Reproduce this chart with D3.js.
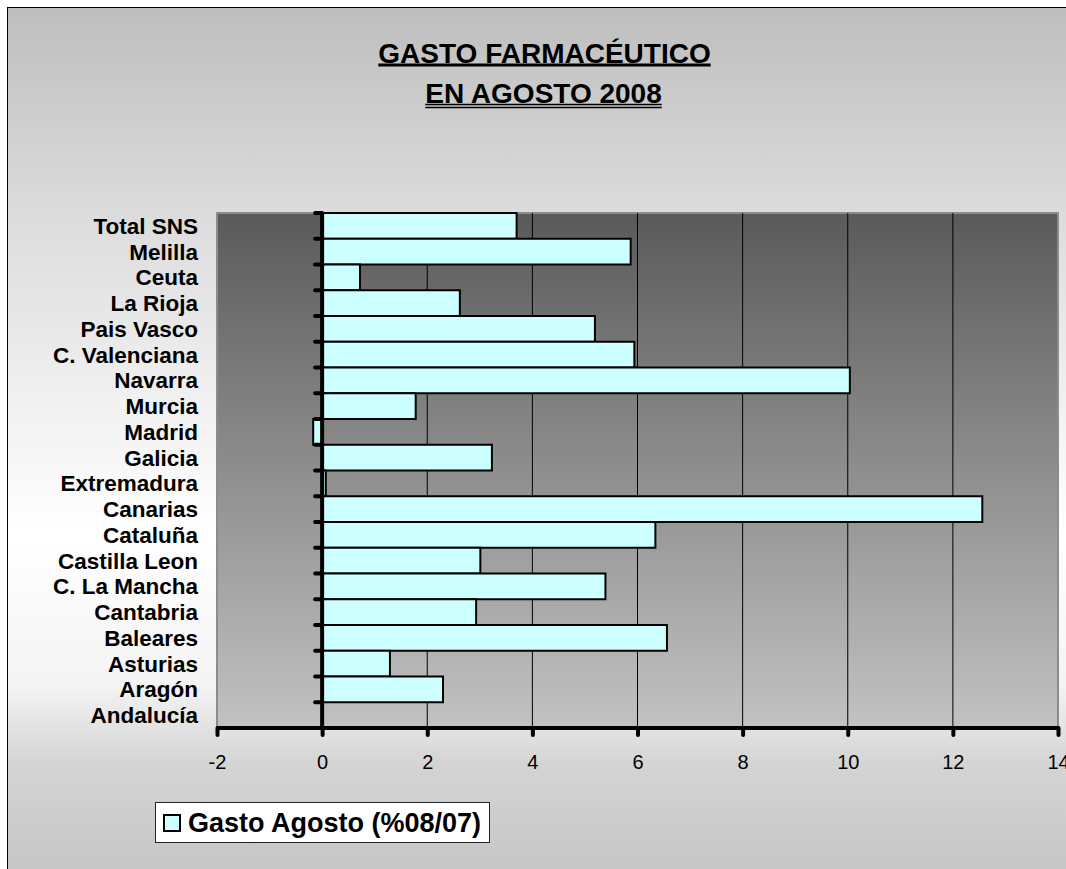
<!DOCTYPE html>
<html>
<head>
<meta charset="utf-8">
<script src="https://cdn.jsdelivr.net/npm/d3@7"></script>
<style>
  body { margin: 0; background: #fff; }
  svg { display: block; font-family: "Liberation Sans", Arial, sans-serif; }
</style>
</head>
<body>
<svg id="chart" width="1066" height="869"></svg>
<script>
// categories from top to bottom, as they appear in the chart
const regions = ['Total SNS', 'Melilla', 'Ceuta', 'La Rioja', 'Pais Vasco', 'C. Valenciana',
    'Navarra', 'Murcia', 'Madrid', 'Galicia', 'Extremadura', 'Canarias', 'Cataluña',
    'Castilla Leon', 'C. La Mancha', 'Cantabria', 'Baleares', 'Asturias', 'Aragón', 'Andalucía'];
const gastoAgosto = [3.70, 5.87, 0.72, 2.62, 5.19, 5.94, 10.04, 1.78, -0.17, 3.23,
    0.07, 12.56, 6.34, 3.01, 5.39, 2.93, 6.56, 1.29, 2.30, 0];
const xTicks = [-2, 0, 2, 4, 6, 8, 10, 12, 14];
const titleLines = ['GASTO FARMACÉUTICO', 'EN AGOSTO 2008'];
const legendLabel = 'Gasto Agosto (%08/07)';

const svg = d3.select('#chart');
const defs = svg.append('defs');

// fondo del gráfico: gris arriba, blanco al medio, gris abajo
const bg = defs.append('linearGradient').attr('id', 'bgGrad')
    .attr('x1', 0).attr('y1', 0).attr('x2', 0).attr('y2', 1);
[[0, '#bebebe'], [0.22, '#dadada'], [0.4, '#ececec'], [0.6, '#ffffff'],
 [0.77, '#f4f4f4'], [0.86, '#d4d4d4'], [1, '#c4c4c4']].forEach(s => {
    bg.append('stop').attr('offset', s[0]).attr('stop-color', s[1]);
});

const pg = defs.append('linearGradient').attr('id', 'plotGrad')
    .attr('x1', 0).attr('y1', 0).attr('x2', 0).attr('y2', 1);
pg.append('stop').attr('offset', 0).attr('stop-color', '#5a5a5a');
pg.append('stop').attr('offset', 1).attr('stop-color', '#c2c2c2');

svg.append('rect')
    .attr('x', 7.5).attr('y', 7.5)
    .attr('width', 1080).attr('height', 880)
    .attr('fill', 'url(#bgGrad)')
    .attr('stroke', '#000').attr('stroke-width', 1);

const plot = { left: 217, right: 1058, top: 213, bottom: 728 };

const x = d3.scaleLinear().domain([-2, 14]).range([plot.left, plot.right]);
const y = d3.scaleBand().domain(regions).range([plot.top, plot.bottom]).padding(0);

// area de trazado
svg.append('rect')
    .attr('x', plot.left).attr('y', plot.top)
    .attr('width', plot.right - plot.left).attr('height', plot.bottom - plot.top)
    .attr('fill', 'url(#plotGrad)')
    .attr('stroke', '#8c8c8c').attr('stroke-width', 2);

// lineas de division verticales
svg.append('g')
    .selectAll('line')
    .data(xTicks.filter(t => t > 0 && t < 14))
    .join('line')
    .attr('x1', d => x(d)).attr('x2', d => x(d))
    .attr('y1', plot.top).attr('y2', plot.bottom)
    .attr('stroke', '#000').attr('stroke-width', 1);

// barras
const data = regions.map((r, i) => ({ region: r, value: gastoAgosto[i] }));
svg.append('g')
    .selectAll('rect')
    .data(data.filter(d => d.value !== 0))
    .join('rect')
    .attr('x', d => x(Math.min(0, d.value)))
    .attr('y', d => y(d.region))
    .attr('width', d => Math.abs(x(d.value) - x(0)))
    .attr('height', y.bandwidth())
    .attr('fill', '#ccffff')
    .attr('stroke', '#000')
    .attr('stroke-width', 2);

// eje X
const xAxis = svg.append('g')
    .attr('transform', `translate(0,${plot.bottom})`)
    .call(d3.axisBottom(x).tickValues(xTicks).tickSize(7).tickPadding(20).tickFormat(d => String(d)));
xAxis.select('.domain')
    .attr('stroke', '#000').attr('stroke-width', 4)
    .attr('d', `M${plot.left},0H${plot.right}`);
xAxis.selectAll('.tick line')
    .attr('stroke', '#000').attr('stroke-width', 4).attr('stroke-linecap', 'round');
xAxis.selectAll('.tick text')
    .attr('fill', '#000')
    .style('font-size', '20px')
    .style('font-family', '"Liberation Sans", Arial, sans-serif');

// eje Y en el cero, con marcas entre categorias
const yAxis = svg.append('g');
const bounds = regions.map(r => y(r));
yAxis.selectAll('line.tk')
    .data(bounds)
    .join('line')
    .attr('class', 'tk')
    .attr('x1', x(0) - 7).attr('x2', x(0))
    .attr('y1', d => d).attr('y2', d => d)
    .attr('stroke', '#000').attr('stroke-width', 4).attr('stroke-linecap', 'round');
yAxis.append('line')
    .attr('x1', x(0)).attr('x2', x(0))
    .attr('y1', plot.top).attr('y2', plot.bottom)
    .attr('stroke', '#000').attr('stroke-width', 4);

// etiquetas de categoria
svg.append('g')
    .selectAll('text')
    .data(regions)
    .join('text')
    .attr('x', 198)
    .attr('y', d => y(d) + y.bandwidth() / 2)
    .attr('dy', '0.36em')
    .attr('text-anchor', 'end')
    .style('font-size', '22.5px')
    .style('font-weight', 'bold')
    .text(d => d);

// titulo subrayado
const t1 = svg.append('text')
    .attr('x', 544.5).attr('y', 62.5)
    .attr('text-anchor', 'middle')
    .style('font-size', '28px').style('font-weight', 'bold')
    .text(titleLines[0]);
const t2 = svg.append('text')
    .attr('x', 543.5).attr('y', 102.5)
    .attr('text-anchor', 'middle')
    .style('font-size', '28px').style('font-weight', 'bold')
    .text(titleLines[1]);
const b1 = t1.node().getBBox();
svg.append('line')
    .attr('x1', b1.x).attr('x2', b1.x + b1.width)
    .attr('y1', 65).attr('y2', 65)
    .attr('stroke', '#000').attr('stroke-width', 3);
const b2 = t2.node().getBBox();
[104.5, 107.5].forEach(yy => {
    svg.append('line')
        .attr('x1', b2.x).attr('x2', b2.x + b2.width)
        .attr('y1', yy).attr('y2', yy)
        .attr('stroke', '#000').attr('stroke-width', 1.5);
});

// leyenda
const legend = svg.append('g');
legend.append('rect')
    .attr('x', 155.5).attr('y', 802.5)
    .attr('width', 334).attr('height', 40)
    .attr('fill', '#fff')
    .attr('stroke', '#222').attr('stroke-width', 1);
legend.append('rect')
    .attr('x', 164).attr('y', 815)
    .attr('width', 16).attr('height', 16)
    .attr('fill', '#ccffff')
    .attr('stroke', '#000').attr('stroke-width', 2);
legend.append('text')
    .attr('x', 188).attr('y', 832)
    .style('font-size', '27px').style('font-weight', 'bold')
    .text(legendLabel);
</script>
</body>
</html>
